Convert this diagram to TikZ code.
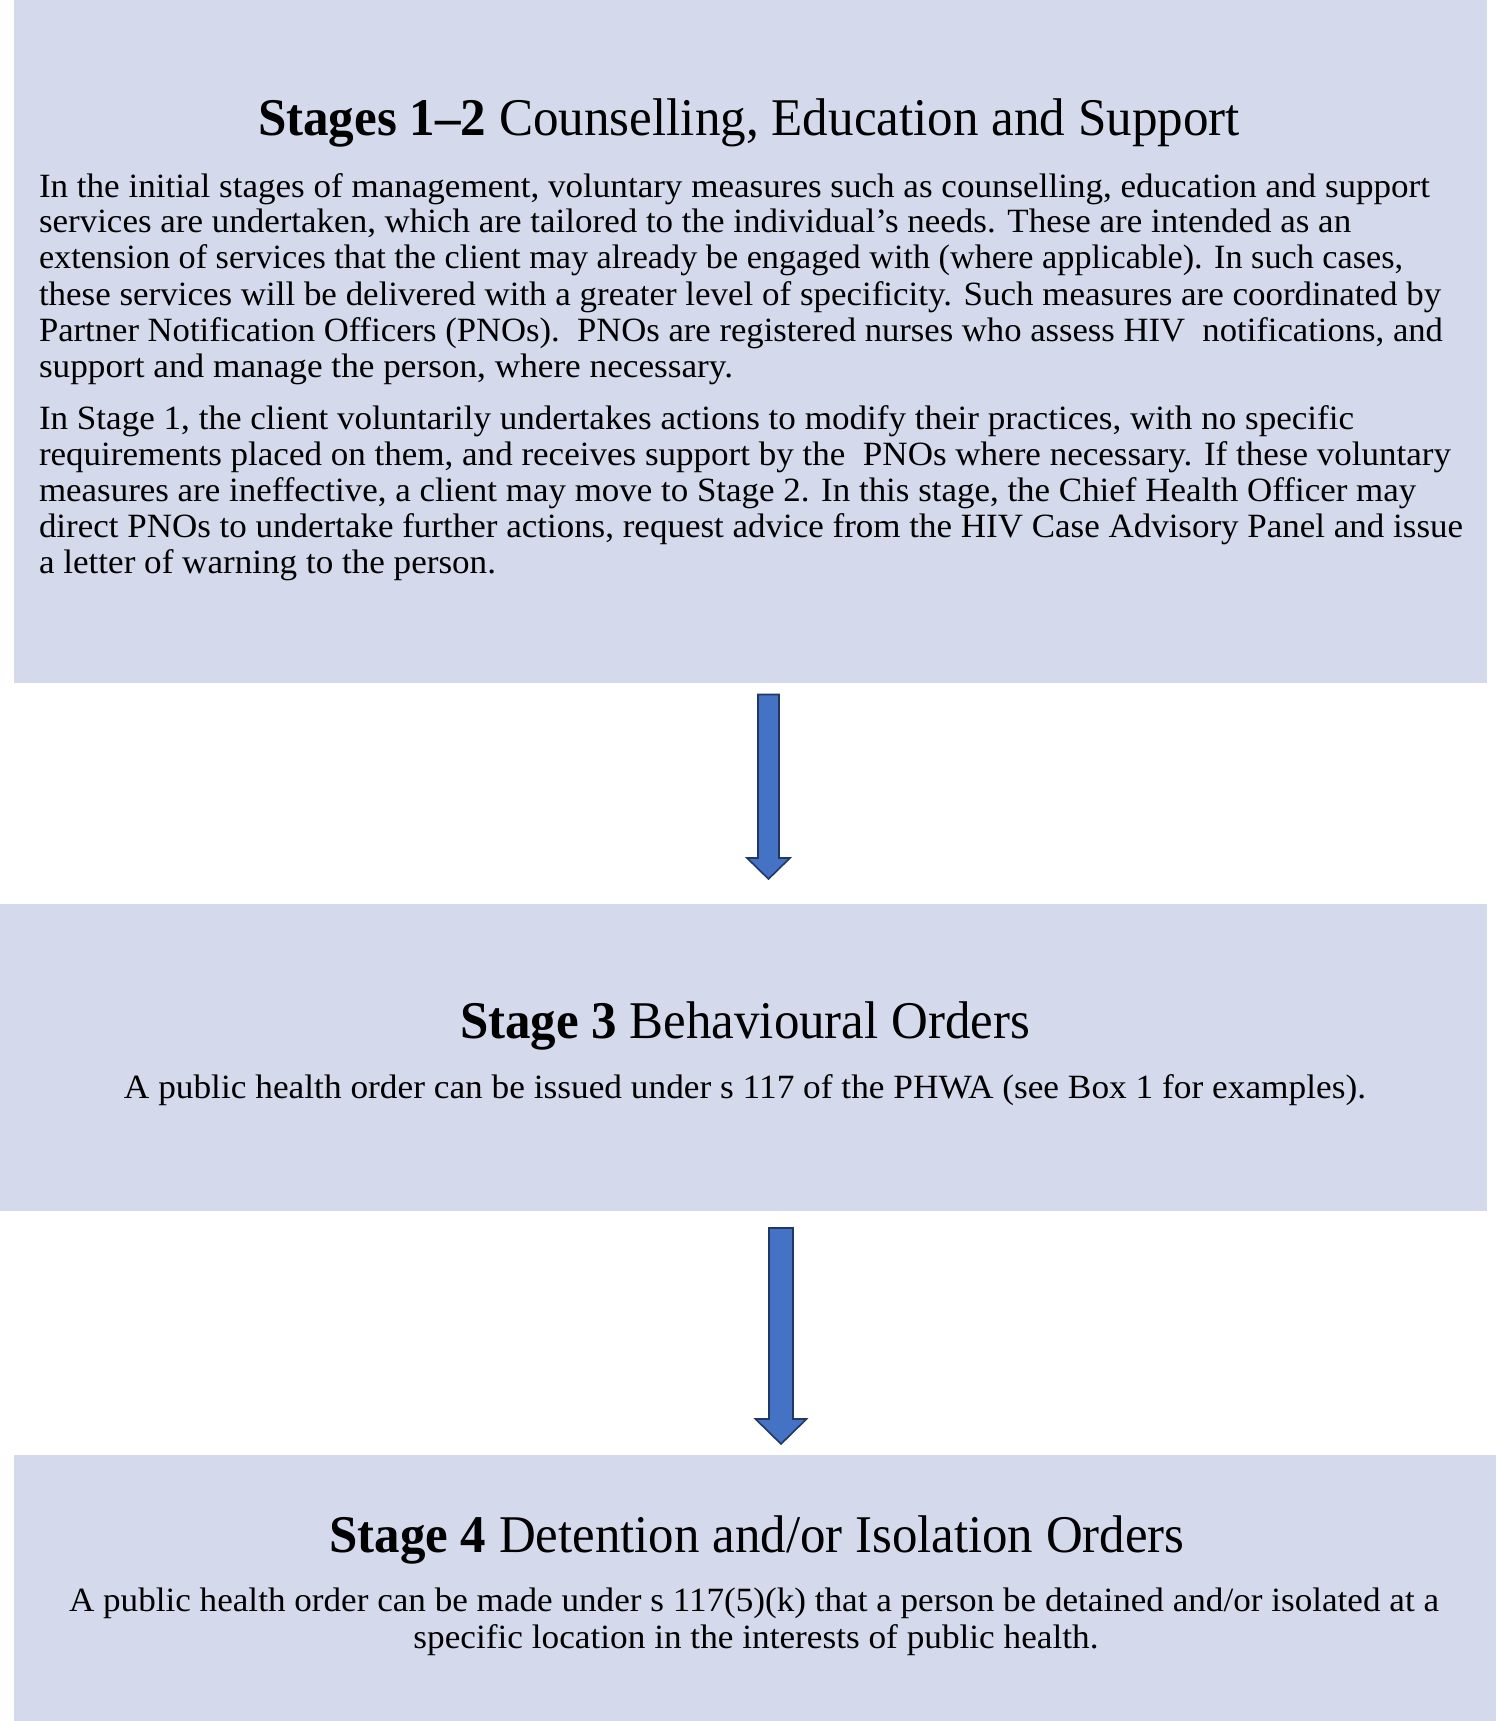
\documentclass[tikz,border=0pt]{standalone}
\usepackage{fontspec}
\setmainfont{Liberation Serif}
\usepackage{graphicx}
\definecolor{boxfill}{RGB}{212,217,235}
\definecolor{arrowfill}{RGB}{68,114,196}
\definecolor{arrowline}{RGB}{31,56,100}
\newcommand\fitto[2]{\resizebox{#1pt}{\height}{#2}}
\newcommand\blkarrow[6]{% cx, top, headbase, tip, shaft half, head half
  \filldraw[blockarrow] (#1-#5,#2) -- (#1+#5,#2) -- (#1+#5,#3) -- (#1+#6,#3)
    -- (#1,#4) -- (#1-#6,#3) -- (#1-#5,#3) -- cycle;}
\begin{document}
\begin{tikzpicture}[x=1pt,y=-1pt,
  stagebox/.style={fill=boxfill, draw=none, inner sep=0pt, outer sep=0pt, anchor=north west},
  blockarrow/.style={fill=arrowfill, draw=arrowline, line width=1.6pt, line join=miter},
  bodyL/.style={inner sep=0pt, outer sep=0pt, anchor=base west, font=\fontsize{34}{38}\selectfont},
  bodyC/.style={inner sep=0pt, outer sep=0pt, anchor=base, font=\fontsize{34}{38}\selectfont},
  titleC/.style={inner sep=0pt, outer sep=0pt, anchor=base, font=\fontsize{53}{60}\selectfont}]
\useasboundingbox (0,0) rectangle (1498,1721);
% boxes
\node[stagebox, minimum width=1473pt, minimum height=683pt] (s12) at (14,0) {};
\node[stagebox, minimum width=1487pt, minimum height=307pt] (s3) at (0,904) {};
\node[stagebox, minimum width=1482pt, minimum height=266pt] (s4) at (14,1455) {};
% arrows
\blkarrow{768.5}{694.5}{858}{879}{10.5}{21.5}
\blkarrow{781}{1228}{1419}{1444}{12}{25.5}
% box 1 text
\node[titleC] (t12) at (749,135) {\fitto{982}{\textbf{Stages 1–2} Counselling, Education and Support}};
\node[bodyL] (p1a) at (39,197.7) {\fitto{1391}{In the initial stages of management, voluntary measures such as counselling, education and support}};
\node[bodyL] (p1b) at (39,232.7) {\fitto{1312}{services are undertaken, which are tailored to the individual’s needs. These are intended as an}};
\node[bodyL] (p1c) at (39,268.9) {\fitto{1364}{extension of services that the client may already be engaged with (where applicable). In such cases,}};
\node[bodyL] (p1d) at (39,305.1) {\fitto{1402}{these services will be delivered with a greater level of specificity. Such measures are coordinated by}};
\node[bodyL] (p1e) at (39,341) {\fitto{1404}{Partner Notification Officers (PNOs).\ \ PNOs are registered nurses who assess HIV\ \ notifications, and}};
\node[bodyL] (p1f) at (39,377) {\fitto{694}{support and manage the person, where necessary.}};
\node[bodyL] (p2a) at (39,429) {\fitto{1315}{In Stage 1, the client voluntarily undertakes actions to modify their practices, with no specific}};
\node[bodyL] (p2b) at (39,465) {\fitto{1412}{requirements placed on them, and receives support by the\ \ PNOs where necessary. If these voluntary}};
\node[bodyL] (p2c) at (39,501) {\fitto{1377}{measures are ineffective, a client may move to Stage 2. In this stage, the Chief Health Officer may}};
\node[bodyL] (p2d) at (39,537) {\fitto{1424}{direct PNOs to undertake further actions, request advice from the HIV Case Advisory Panel and issue}};
\node[bodyL] (p2e) at (39,573) {\fitto{457}{a letter of warning to the person.}};
% box 2 text
\node[titleC] (t3) at (745,1038.5) {\fitto{570}{\textbf{Stage 3} Behavioural Orders}};
\node[bodyC] (b3) at (745,1098) {\fitto{1242}{A public health order can be issued under s 117 of the PHWA (see Box 1 for examples).}};
% box 3 text
\node[titleC] (t4) at (757,1552.5) {\fitto{855}{\textbf{Stage 4} Detention and/or Isolation Orders}};
\node[bodyC] (b4a) at (754,1611.5) {\fitto{1370}{A public health order can be made under s 117(5)(k) that a person be detained and/or isolated at a}};
\node[bodyC] (b4b) at (756,1648.5) {\fitto{685}{specific location in the interests of public health.}};
\end{tikzpicture}
\end{document}
